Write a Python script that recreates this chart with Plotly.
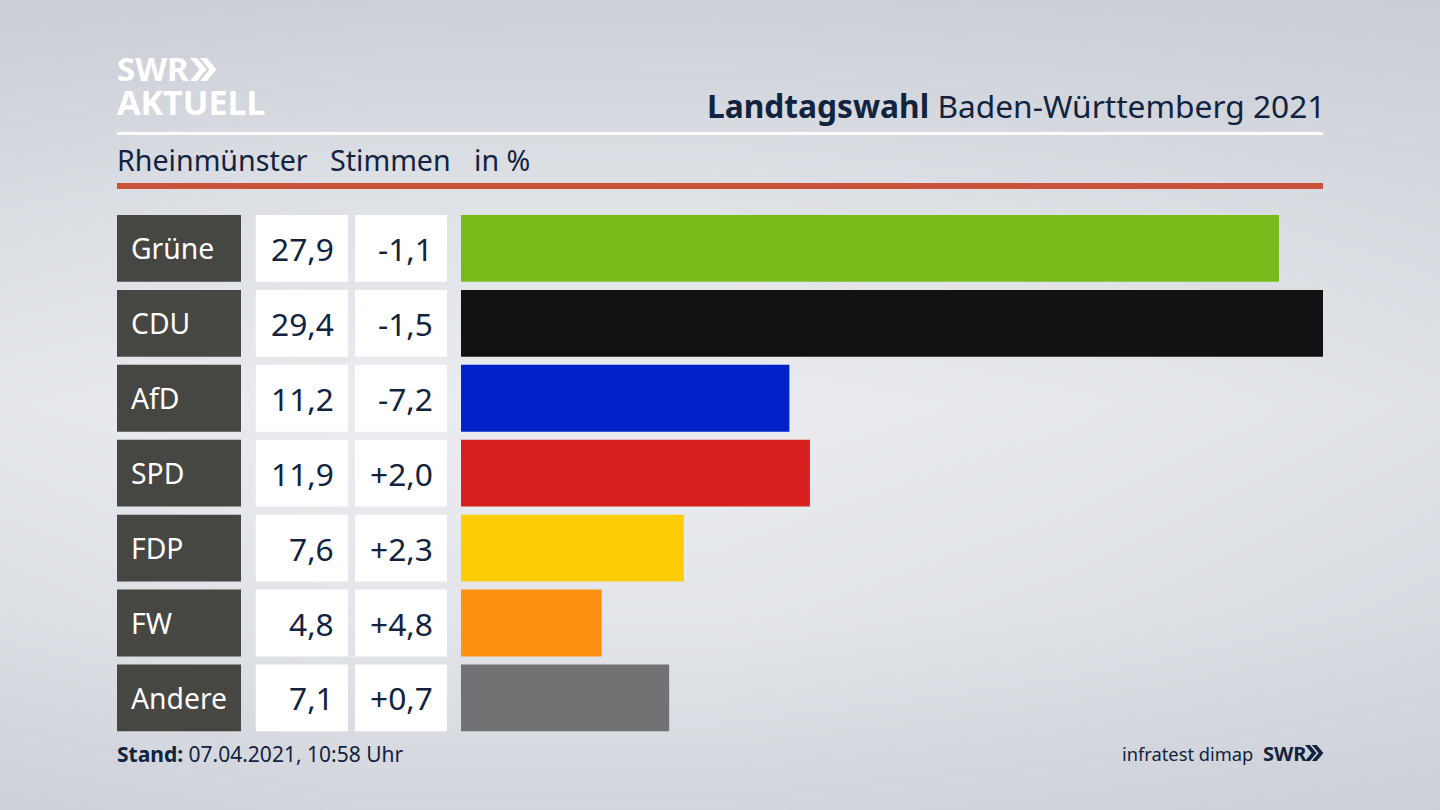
import plotly.graph_objects as go

parties = ["Grüne", "CDU", "AfD", "SPD", "FDP", "FW", "Andere"]
shares = [27.9, 29.4, 11.2, 11.9, 7.6, 4.8, 7.1]
share_labels = ["27,9", "29,4", "11,2", "11,9", "7,6", "4,8", "7,1"]
change_labels = ["-1,1", "-1,5", "-7,2", "+2,0", "+2,3", "+4,8", "+0,7"]
bar_colors = ["#78bc1b", "#121212", "#0022c8", "#d6201f", "#ffcc08", "#ff9012", "#717273"]
bg_x = [0, 360, 720, 1080, 1440]
bg_y = [0, 200, 405, 610, 810]
bg_z = [
    [0.05, 0.12, 0.14, 0.10, 0.04],
    [0.50, 0.66, 0.66, 0.56, 0.42],
    [0.85, 1.00, 1.00, 0.88, 0.68],
    [0.58, 0.80, 0.80, 0.66, 0.48],
    [0.15, 0.30, 0.30, 0.22, 0.12],
]

W, H = 1440, 810
DARK = "#11233f"
FONT = "Noto Sans"


def px(x):
    return x / W


def py(y):
    return 1 - y / H


fig = go.Figure()
fig.add_trace(go.Heatmap(x=bg_x, y=bg_y, z=bg_z, zsmooth="best", showscale=False, hoverinfo="skip",
                         colorscale=[[0, "#c9cdd4"], [1, "#eaecf0"]], xaxis="x", yaxis="y"))
fig.add_trace(go.Bar(x=[1] * 7, y=parties, orientation="h", marker=dict(color="#464643", line_width=0),
                     xaxis="x2", yaxis="y2", hoverinfo="skip"))
fig.add_trace(go.Bar(x=[1] * 7, y=parties, orientation="h", marker=dict(color="#ffffff", line_width=0),
                     xaxis="x3", yaxis="y2", hoverinfo="skip"))
fig.add_trace(go.Bar(x=[1] * 7, y=parties, orientation="h", marker=dict(color="#ffffff", line_width=0),
                     xaxis="x4", yaxis="y2", hoverinfo="skip"))
fig.add_trace(go.Bar(x=shares, y=parties, orientation="h", marker=dict(color=bar_colors, line_width=0),
                     xaxis="x5", yaxis="y2", hoverinfo="skip"))

hidden = dict(visible=False, fixedrange=True)
ann = []


def text(s, x, y, size, color=DARK, anchor="left", bold=False):
    ann.append(dict(text=f"<b>{s}</b>" if bold else s, x=px(x), y=py(y), xref="paper", yref="paper",
                    xanchor=anchor, yanchor="middle", showarrow=False, borderpad=0, borderwidth=0,
                    font=dict(family=FONT, size=size, color=color)))


for party, share, change in zip(parties, share_labels, change_labels):
    ann.append(dict(text=party, x=0, xshift=14, y=party, xref="x2", yref="y2", xanchor="left", yanchor="middle",
                    showarrow=False, borderpad=0, borderwidth=0, font=dict(family=FONT, size=28.3, color="#ffffff")))
    ann.append(dict(text=share, x=1, xshift=-14.5, y=party, xref="x3", yref="y2", xanchor="right", yanchor="middle",
                    showarrow=False, borderpad=0, borderwidth=0, font=dict(family=FONT, size=31.7, color=DARK)))
    ann.append(dict(text=change, x=1, xshift=-14.5, y=party, xref="x4", yref="y2", xanchor="right", yanchor="middle",
                    showarrow=False, borderpad=0, borderwidth=0, font=dict(family=FONT, size=31.7, color=DARK)))

text("SWR", 117, 69, 33, "#ffffff", bold=True)
text("AKTUELL", 117, 102, 34, "#ffffff", bold=True)
text("<b>Landtagswahl</b> Baden-Württemberg 2021", 1324.5, 105.5, 31.7, anchor="right")
text("Rheinmünster", 117, 159.5, 28.6)
text("Stimmen", 330, 159.5, 28.6)
text("in %", 474, 159.5, 28.6)
text("<b>Stand:</b> 07.04.2021, 10:58 Uhr", 117, 754, 21)
text("infratest dimap", 1122, 753, 18.3)
text("SWR", 1263, 753, 20, bold=True)


def chevrons(x0, y0, h, color):
    w = h * 0.42
    t = h * 0.3
    d = ""
    for ox in (0, h * 0.43):
        a = x0 + ox
        d += (f"M{px(a)},{py(y0)} L{px(a + t)},{py(y0)} L{px(a + t + w)},{py(y0 + h / 2)} "
              f"L{px(a + t)},{py(y0 + h)} L{px(a)},{py(y0 + h)} L{px(a + w)},{py(y0 + h / 2)} Z ")
    return dict(type="path", path=d, xref="paper", yref="paper", fillcolor=color, line_width=0)


def band(y0, y1, color):
    return dict(type="rect", xref="paper", yref="paper", x0=px(117), x1=px(1323), y0=py(y0), y1=py(y1),
                fillcolor=color, line_width=0)


fig.update_layout(
    width=W, height=H, margin=dict(l=0, r=0, t=0, b=0), showlegend=False,
    paper_bgcolor="#dfe2e7", plot_bgcolor="rgba(0,0,0,0)", bargap=0.108,
    xaxis=dict(hidden, domain=[0, 1], range=[0, 1440]),
    yaxis=dict(hidden, domain=[0, 1], range=[810, 0]),
    xaxis2=dict(hidden, domain=[px(117), px(241)], range=[0, 1], anchor="y2"),
    xaxis3=dict(hidden, domain=[px(255.5), px(348)], range=[0, 1], anchor="y2"),
    xaxis4=dict(hidden, domain=[px(355), px(447)], range=[0, 1], anchor="y2"),
    xaxis5=dict(hidden, domain=[px(461), px(1323)], range=[0, 29.4], anchor="y2"),
    yaxis2=dict(hidden, domain=[py(735.4), py(211)], type="category", categoryorder="array",
                categoryarray=parties, range=[6.5, -0.5], anchor="x2"),
    annotations=ann,
    shapes=[band(132, 135, "#ffffff"), band(183, 189, "#cb5138"),
            chevrons(190, 58, 23, "#ffffff"), chevrons(1305, 745, 16, DARK)],
)
fig.write_html("out.html", post_script="document.body.style.margin='0';document.body.style.overflow='hidden';",
               config=dict(displayModeBar=False))
